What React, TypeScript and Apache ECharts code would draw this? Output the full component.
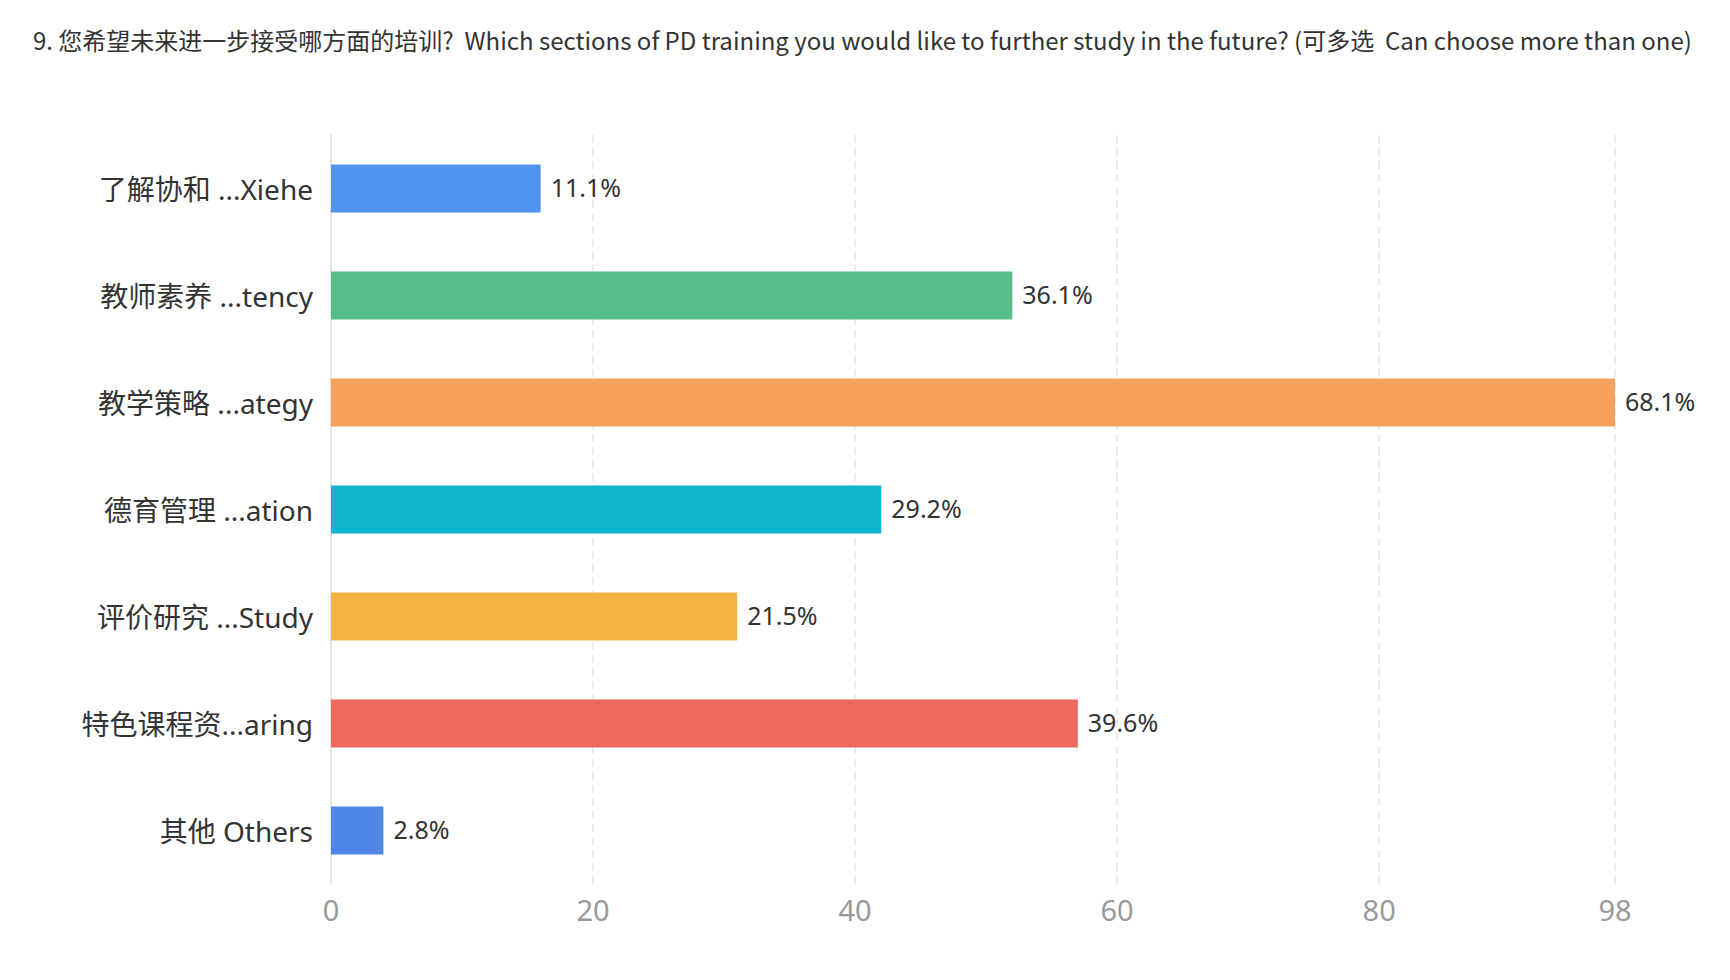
import React, { useEffect, useRef } from 'react';
import * as echarts from 'echarts';

const titleText =
  '9. 您希望未来进一步接受哪方面的培训?  Which sections of PD training you would like to further study in the future? (可多选  Can choose more than one)';

const categories = [
  '了解协和 ...Xiehe',
  '教师素养 ...tency',
  '教学策略 ...ategy',
  '德育管理 ...ation',
  '评价研究 ...Study',
  '特色课程资...aring',
  '其他 Others'
];

// respondent counts per option
const counts = [16, 52, 98, 42, 31, 57, 4];

// percentage labels as printed next to the bars
const percentLabels = ['11.1%', '36.1%', '68.1%', '29.2%', '21.5%', '39.6%', '2.8%'];

const barColors = ['#4f95ee', '#56be88', '#f7a05b', '#0fb5ce', '#f5b342', '#f0675b', '#5087e6'];

const axisMax = 98;

const App: React.FC = () => {
  const chartRef = useRef<HTMLDivElement>(null);

  useEffect(() => {
    if (!chartRef.current) return;
    const chart = echarts.init(chartRef.current, undefined, { renderer: 'svg' });

    const option = {
      animation: false,
      backgroundColor: '#ffffff',
      title: {
        text: titleText,
        left: 28,
        top: 22,
        textStyle: {
          fontFamily: '"Noto Sans CJK SC", "Noto Sans", sans-serif',
          fontSize: 24,
          fontWeight: 'normal',
          color: '#333333'
        }
      },
      grid: {
        left: 331,
        right: 115,
        top: 135,
        bottom: 96
      },
      xAxis: {
        type: 'value',
        min: 0,
        max: axisMax,
        interval: 20,
        axisLine: { show: false },
        axisTick: { show: false },
        axisLabel: {
          margin: 11,
          fontSize: 29,
          color: '#999999',
          fontFamily: '"Noto Sans", sans-serif'
        },
        splitLine: {
          lineStyle: {
            color: '#e5e5e5',
            width: 1.5,
            type: [8, 5]
          }
        }
      },
      yAxis: {
        type: 'category',
        inverse: true,
        data: categories,
        axisLine: {
          lineStyle: { color: '#e6e6e6', width: 2 }
        },
        axisTick: { show: false },
        axisLabel: {
          margin: 18,
          fontSize: 28,
          color: '#333333',
          padding: [0, 0, 4, 0],
          fontFamily: '"Noto Sans", "Noto Sans CJK SC", sans-serif'
        }
      },
      series: [
        {
          type: 'bar',
          barWidth: 48,
          data: counts.map((v, i) => ({
            value: v,
            itemStyle: { color: barColors[i] }
          })),
          label: {
            show: true,
            position: 'right',
            distance: 10,
            fontSize: 25,
            color: '#333333',
            fontFamily: '"Noto Sans", sans-serif',
            offset: [0, -2],
            formatter: (p: any) => percentLabels[p.dataIndex]
          }
        }
      ]
    };

    chart.setOption(option);

    return () => {
      chart.dispose();
    };
  }, []);

  return (
    <div
      ref={chartRef}
      style={{
        position: 'fixed',
        left: 0,
        top: 0,
        width: '1730px',
        height: '980px',
        backgroundColor: '#ffffff'
      }}
    />
  );
};

export default App;
